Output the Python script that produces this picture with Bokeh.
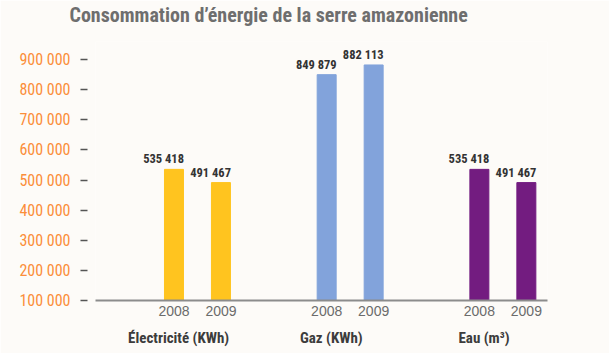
from bokeh.plotting import figure
from bokeh.models import ColumnDataSource, FixedTicker, LinearAxis, Range1d, Title
from bokeh.core.properties import value
from bokeh.embed import file_html
from bokeh.resources import INLINE

# ---- data ----
title = "Consommation d\u2019énergie de la serre amazonienne"
groups = ["Électricité (KWh)", "Gaz (KWh)", "Eau (m³)"]
years = ["2008", "2009"]
electricite = [535418, 491467]
gaz = [849879, 882113]
eau = [535418, 491467]
y_ticks = [100000, 200000, 300000, 400000, 500000, 600000, 700000, 800000, 900000]
y_tick_labels = ["100 000", "200 000", "300 000", "400 000", "500 000",
                 "600 000", "700 000", "800 000", "900 000"]

series = [electricite, gaz, eau]
group_colors = ["#FFC41F", "#82A3DB", "#731C80"]

NARROW = "Roboto Condensed"
REG = "Liberation Sans"
BG = "#FDFBF8"

GROUP_STEP = 3.25
BASE = y_ticks[0]

xs, tops, labels, colors = [], [], [], []
year_overrides = {}
for gi, vals in enumerate(series):
    for yi, v in enumerate(vals):
        x = gi * GROUP_STEP + yi
        xs.append(x)
        tops.append(v)
        labels.append(f"{v:,}".replace(",", " "))
        colors.append(group_colors[gi])
        year_overrides[x] = years[yi]

group_ticks = [gi * GROUP_STEP + 0.1 for gi in range(len(groups))]
group_overrides = {t: g for t, g in zip(group_ticks, groups)}

src = ColumnDataSource(dict(x=xs, top=tops, label=labels, color=colors))

p = figure(width=609, height=353, output_backend="svg", toolbar_location=None,
           x_range=Range1d(-1.67, 7.95), y_range=Range1d(BASE, 960000),
           x_axis_type=None,
           min_border_left=95, min_border_right=62, min_border_top=40,
           min_border_bottom=53)
p.background_fill_color = BG
p.border_fill_color = BG
p.outline_line_color = None
p.grid.visible = False

# small invisible spacer between the title and the plot area
p.add_layout(Title(text=" ", text_font_size="1px", standoff=12), "above")

p.title.text = title
p.title.align = "left"
p.title.vertical_align = "bottom"
p.title.offset = -26
p.title.standoff = 0
p.title.text_font = NARROW
p.title.text_font_size = "20px"
p.title.text_font_style = "bold"
p.title.text_color = "#6E6E6E"

p.vbar(x="x", top="top", bottom=BASE, width=0.404, color="color", source=src)
p.text(x="x", y="top", text="label", source=src, text_align="right",
       text_baseline="bottom", x_offset=10, y_offset=-3,
       text_font=value(NARROW), text_font_style="bold", text_font_size="12.5px",
       text_color="#333333")

# y axis
ya = p.yaxis[0]
ya.ticker = FixedTicker(ticks=y_ticks)
ya.major_label_overrides = {t: l for t, l in zip(y_ticks, y_tick_labels)}
ya.axis_line_color = None
ya.minor_tick_line_color = None
ya.major_tick_line_color = "#555555"
ya.major_tick_line_width = 1.5
ya.major_tick_in = -8
ya.major_tick_out = 15
ya.major_label_standoff = 10
ya.major_label_text_color = "#FB8E3A"
ya.major_label_text_font = NARROW
ya.major_label_text_font_size = "16px"

# x axis: years
xa = LinearAxis(ticker=FixedTicker(ticks=xs), major_label_overrides=year_overrides)
xa.axis_line_color = "#8C8C8C"
xa.axis_line_width = 2
xa.major_tick_line_color = None
xa.minor_tick_line_color = None
xa.major_tick_in = 0
xa.major_tick_out = 0
xa.major_label_standoff = 5
xa.major_label_text_color = "#6B6B6B"
xa.major_label_text_font = REG
xa.major_label_text_font_size = "14px"
p.add_layout(xa, "below")

# x axis: groups
ga = LinearAxis(ticker=FixedTicker(ticks=group_ticks), major_label_overrides=group_overrides)
ga.axis_line_color = None
ga.major_tick_line_color = None
ga.minor_tick_line_color = None
ga.major_tick_in = 0
ga.major_tick_out = 0
ga.major_label_standoff = 10
ga.major_label_text_color = "#3C3C3C"
ga.major_label_text_font = NARROW
ga.major_label_text_font_style = "bold"
ga.major_label_text_font_size = "15px"
p.add_layout(ga, "below")

open("out.html", "w").write(file_html(p, INLINE))
